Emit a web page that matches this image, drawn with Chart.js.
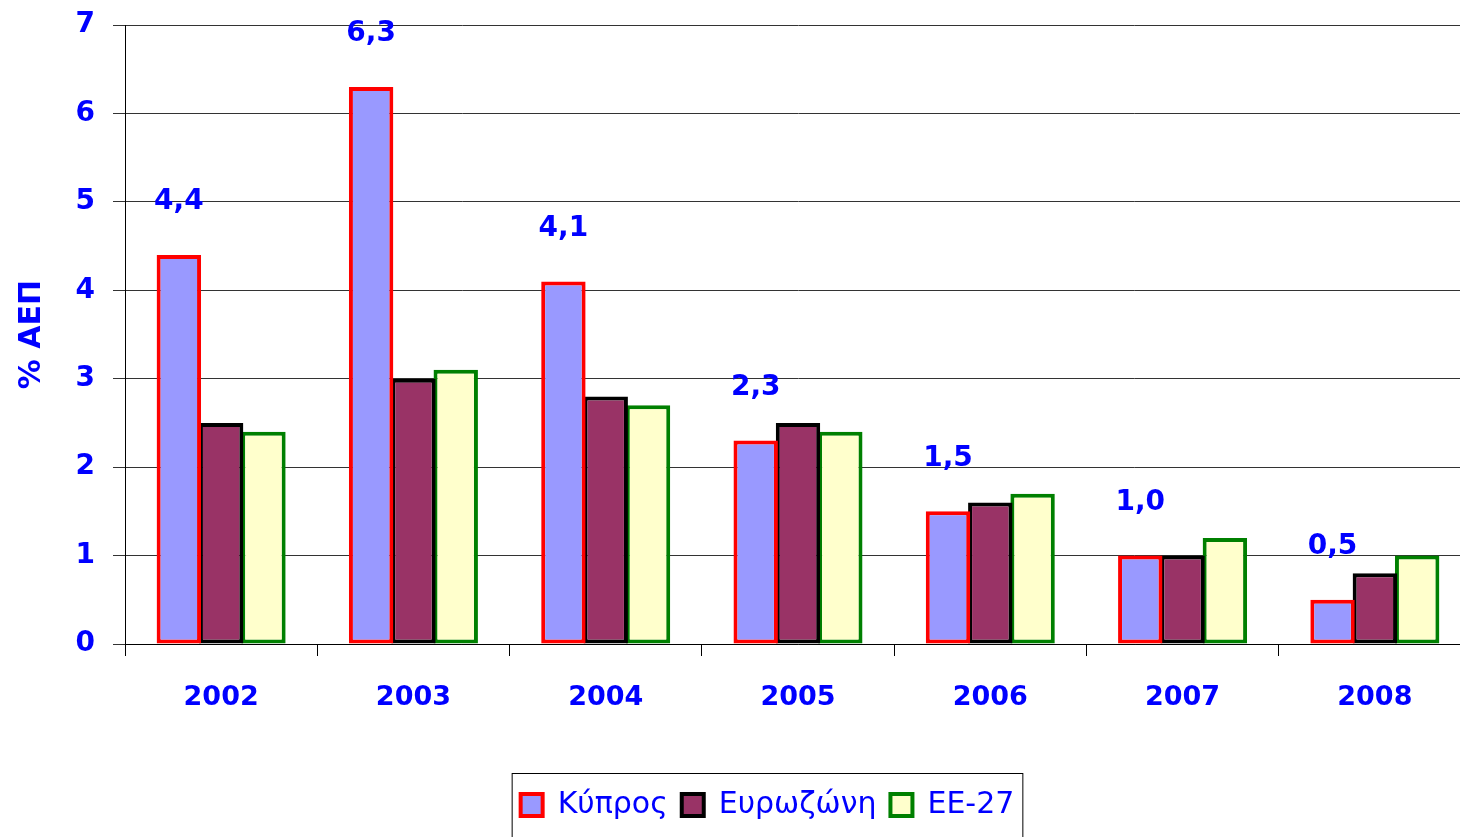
<!DOCTYPE html>
<html>
<head>
<meta charset="utf-8">
<script src="https://cdn.jsdelivr.net/npm/chart.js@4/dist/chart.umd.min.js"></script>
<style>
  body { margin: 0; overflow: hidden; background: #fff; }
</style>
</head>
<body>
<canvas id="gdpChart" width="1471" height="837"></canvas>
<script>
// years and growth rates (% of GDP)
const years = ['2002', '2003', '2004', '2005', '2006', '2007', '2008'];
const cyprus = [4.4, 6.3, 4.1, 2.3, 1.5, 1.0, 0.5];
const eurozone = [2.5, 3.0, 2.8, 2.5, 1.6, 1.0, 0.8];
const eu27 = [2.4, 3.1, 2.7, 2.4, 1.7, 1.2, 1.0];
const yTicks = [0, 1, 2, 3, 4, 5, 6, 7];

const blue = '#0000FF';
const boldFont = "'DejaVu Sans', sans-serif";

// value labels above the Cyprus bars
const valueLabels = {
    id: 'valueLabels',
    afterDatasetsDraw(chart) {
        const ctx = chart.ctx;
        const meta = chart.getDatasetMeta(0);
        ctx.save();
        ctx.fillStyle = blue;
        ctx.font = 'bold 28px ' + boldFont;
        ctx.textAlign = 'center';
        ctx.textBaseline = 'middle';
        meta.data.forEach(function (bar, i) {
            const txt = cyprus[i].toFixed(1).replace('.', ',');
            ctx.fillText(txt, bar.x, bar.y - 53);
        });
        ctx.restore();
    }
};

// nudge the legend right a bit, then frame it
const legendFrame = {
    id: 'legendFrame',
    afterLayout(chart) {
        const lg = chart.legend;
        lg.left += 32;
        lg.right += 32;
        lg.adjustHitBoxes();
    },
    afterDraw(chart) {
        const lg = chart.legend;
        if (!lg || !lg.legendHitBoxes.length) return;
        const boxes = lg.legendHitBoxes;
        const left = boxes[0].left - 9;
        const last = boxes[boxes.length - 1];
        const right = last.left + last.width + 8;
        const ctx = chart.ctx;
        ctx.save();
        ctx.strokeStyle = '#000';
        ctx.lineWidth = 1;
        ctx.strokeRect(left + 0.5, 773.5, right - left, 100);
        ctx.restore();
    }
};

const ctx1 = document.getElementById('gdpChart').getContext('2d');
const gdpChart = new Chart(ctx1, {
    type: 'bar',
    data: {
        labels: years,
        datasets: [
            {
                label: 'Κύπρος',
                data: cyprus,
                backgroundColor: '#9999FF',
                borderColor: '#FF0000',
                borderWidth: 4,
                borderSkipped: false
            },
            {
                label: 'Ευρωζώνη',
                data: eurozone,
                backgroundColor: '#993366',
                borderColor: '#000000',
                borderWidth: 4,
                borderSkipped: false
            },
            {
                label: 'ΕΕ-27',
                data: eu27,
                backgroundColor: '#FFFFCC',
                borderColor: '#008000',
                borderWidth: 4,
                borderSkipped: false
            }
        ]
    },
    options: {
        responsive: false,
        animation: false,
        categoryPercentage: 0.66,
        barPercentage: 1.05,
        layout: {
            padding: { top: 25, right: 0, bottom: 7, left: 0 }
        },
        plugins: {
            legend: {
                position: 'bottom',
                labels: {
                    color: blue,
                    font: { family: boldFont, size: 30 },
                    boxWidth: 22,
                    boxHeight: 22,
                    padding: 14
                }
            },
            tooltip: { enabled: false }
        },
        scales: {
            x: {
                offset: true,
                grid: {
                    offset: true,
                    drawOnChartArea: false,
                    drawTicks: true,
                    tickLength: 12,
                    color: '#000'
                },
                border: { color: '#000', width: 1 },
                ticks: {
                    color: blue,
                    padding: 26,
                    font: { family: boldFont, size: 27, weight: 'bold' }
                },
                afterFit(scale) {
                    scale.height = 132;
                }
            },
            y: {
                min: 0,
                max: 7,
                afterBuildTicks(scale) {
                    scale.ticks = yTicks.map(v => ({ value: v }));
                },
                grid: {
                    color: '#333333',
                    lineWidth: 1,
                    tickLength: 12
                },
                border: { color: '#000', width: 1 },
                ticks: {
                    color: blue,
                    padding: 18,
                    font: { family: boldFont, size: 28, weight: 'bold' }
                },
                title: {
                    display: true,
                    text: '% ΑΕΠ',
                    color: blue,
                    padding: { top: 14, bottom: 0 },
                    font: { family: boldFont, size: 30, weight: 'bold' }
                },
                afterFit(scale) {
                    scale.width = 125;
                    scale.paddingTop = 0;
                    scale.paddingBottom = 0;
                }
            }
        }
    },
    plugins: [valueLabels, legendFrame]
});
</script>
</body>
</html>
